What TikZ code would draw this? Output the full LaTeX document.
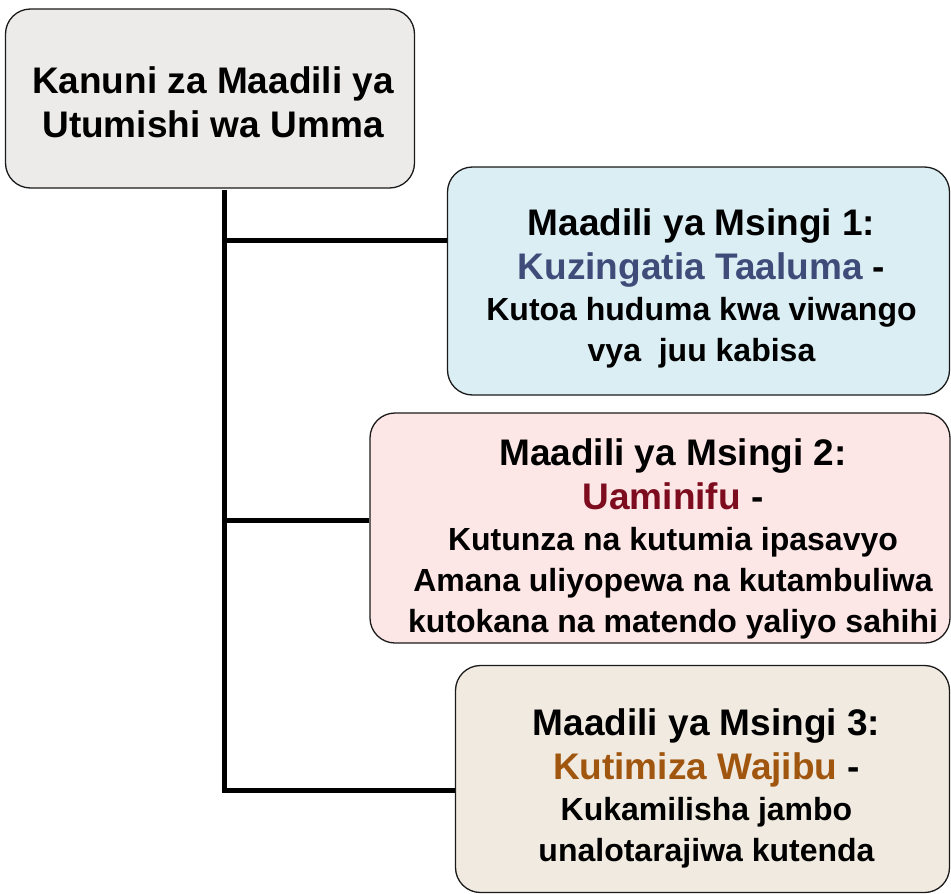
\documentclass[tikz,border=0pt]{standalone}
\usepackage{fontspec}
\setmainfont{Liberation Sans}
\definecolor{topfill}{HTML}{EDEBEA}
\definecolor{bluefill}{HTML}{DAEEF3}
\definecolor{pinkfill}{HTML}{FDE6E6}
\definecolor{beigefill}{HTML}{F1EAE0}
\definecolor{bluetext}{HTML}{3F4C7A}
\definecolor{redtext}{HTML}{7D0C1E}
\definecolor{browntext}{HTML}{A0560F}
\definecolor{edge}{HTML}{1A1A1A}
\newcommand\hdfont{\fontsize{37}{44}\selectfont\bfseries}
\newcommand\dsfont{\fontsize{32}{41}\selectfont\bfseries}
\newcommand\boxtext[2]{\par\vspace*{#1}\leftskip=#2 plus 1fil\rightskip=0pt plus 1fil\relax
  \parfillskip=0pt\spaceskip=0pt\xspaceskip=0pt\relax}
\tikzset{
  boxnode/.style={draw=edge, line width=1.3pt, rounded corners=25pt, inner sep=0pt, align=center},
  link/.style={line width=5pt, black}
}
\begin{document}
\begin{tikzpicture}[x=1pt,y=-1pt]
\useasboundingbox (0,0) rectangle (951,894);
\node[boxnode, fill=topfill, minimum width=409pt, minimum height=179pt, text width=400pt] (top) at (210,98.5)
  {\boxtext{-10pt}{6pt}\hdfont Kanuni za Maadili ya\par Utumishi wa Umma\par};
\node[boxnode, fill=bluefill, minimum width=502pt, minimum height=228pt, text width=495pt] (b1) at (698.5,281)
  {\boxtext{-2pt}{6pt}\hdfont Maadili ya Msingi 1:\par \textcolor{bluetext}{Kuzingatia Taaluma} -\par
   \dsfont Kutoa huduma kwa viwango\par vya\ \ juu kabisa\par};
\node[boxnode, fill=pinkfill, minimum width=580pt, minimum height=230pt, text width=575pt] (b2) at (660,528)
  {\boxtext{4pt}{26pt}\hdfont Maadili ya Msingi 2:\par \textcolor{redtext}{Uaminifu} -\par
   \dsfont Kutunza na kutumia ipasavyo\par Amana uliyopewa na kutambuliwa\par kutokana na matendo yaliyo sahihi\par};
\node[boxnode, fill=beigefill, minimum width=494pt, minimum height=227pt, text width=490pt] (b3) at (702.5,779)
  {\boxtext{2pt}{8pt}\hdfont Maadili ya Msingi 3:\par \textcolor{browntext}{Kutimiza Wajibu} -\par
   \dsfont Kukamilisha jambo\par unalotarajiwa kutenda\par};
\coordinate (t0) at (224,190);
\coordinate (t1) at (224,240);
\coordinate (t2) at (224,520);
\coordinate (t3) at (224,790);
\draw[link] (t0) -- ([yshift=-2.5pt]t3);
\draw[link] (t1) -- (t1 -| b1.west);
\draw[link] (t2) -- (t2 -| b2.west);
\draw[link] ([xshift=-2.5pt]t3) -- (t3 -| b3.west);
\end{tikzpicture}
\end{document}
